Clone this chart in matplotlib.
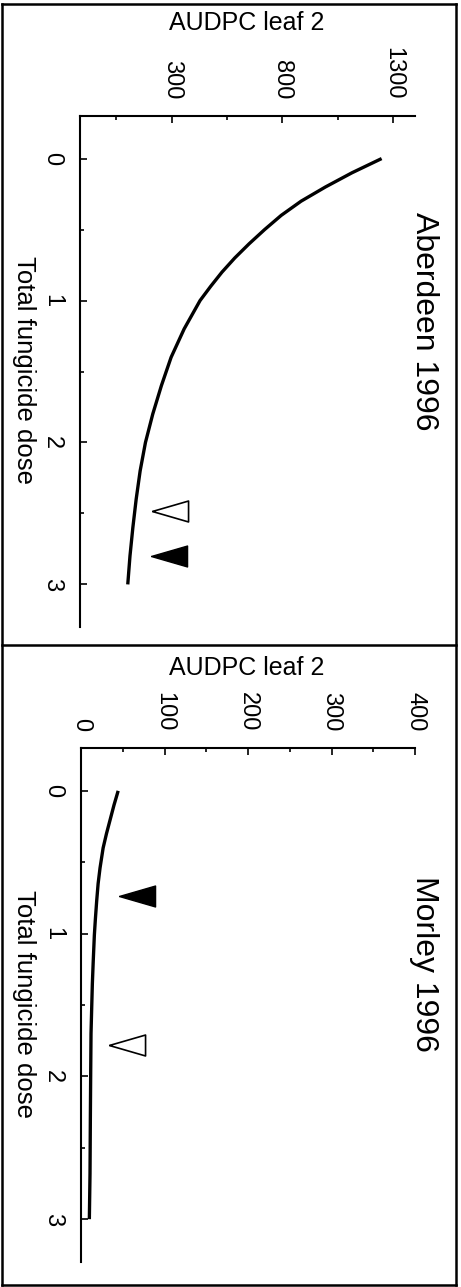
import matplotlib
matplotlib.use("Agg")
import matplotlib.pyplot as plt
from matplotlib.lines import Line2D

plt.rcParams['font.family'] = ['Liberation Sans', 'DejaVu Sans']

# ---------------- data ----------------
ab_title = "Aberdeen 1996"
ab_dose = [0, 0.1, 0.2, 0.3, 0.4, 0.5, 0.6, 0.7, 0.8, 0.9, 1.0,
           1.2, 1.4, 1.6, 1.8, 2.0, 2.2, 2.4, 2.6, 2.8, 3.0]
ab_audpc = [1249, 1115, 995, 885, 795, 720, 650, 585, 527, 476, 428,
            356, 297, 253, 214, 181, 157, 139, 124, 111, 101]
ab_open_dose = [2.48]
ab_open_audpc = [291]
ab_filled_dose = [2.80]
ab_filled_audpc = [286]
ab_xticks = [300, 800, 1300]
ab_xminor = [50, 550, 1050]
ab_xlim = (-115, 1400)

mo_title = "Morley 1996"
mo_dose = [0, 0.1, 0.2, 0.3, 0.4, 0.54, 0.65, 0.77, 0.9, 1.01,
           1.2, 1.35, 1.5, 1.7, 1.98, 2.3, 2.68, 3.0]
mo_audpc = [44.5, 39.5, 35, 30.5, 26.5, 22.8, 20.5, 18.8, 17.2, 16,
            14.6, 13.6, 12.9, 12, 11.6, 11.2, 10.8, 10]
mo_open_dose = [1.78]
mo_open_audpc = [55]
mo_filled_dose = [0.74]
mo_filled_audpc = [67]
mo_xticks = [0, 100, 200, 300, 400]
mo_xminor = [50, 150, 250, 350]
mo_xlim = (0, 400)

dose_ticks = [0, 1, 2, 3]
dose_minor = [0.5, 1.5, 2.5]
dose_lim = (3.3, -0.3)
x_label = "AUDPC leaf 2"
y_label = "Total fungicide dose"

# ---------------- figure ----------------
W, H = 461, 1287
fig = plt.figure(figsize=(W / 100, H / 100), dpi=100)


def fx(x):
    return x / W


def fy(y):
    return 1 - y / H


def px_axes(left, top, right, bottom):
    return fig.add_axes([fx(left), fy(bottom), (right - left) / W, (bottom - top) / H])


tri = [(-1, 0), (1, 0.58), (1, -0.58), (-1, 0)]


def panel(ax, dose, audpc, od, oa, fd, fa, xticks, xminor, xlim):
    ax.plot(audpc, dose, color='black', lw=2.4, solid_capstyle='butt',
            solid_joinstyle='round')
    ax.plot(oa, od, linestyle='none', marker=tri, markersize=26,
            markerfacecolor='white', markeredgecolor='black', markeredgewidth=1.2)
    ax.plot(fa, fd, linestyle='none', marker=tri, markersize=26,
            markerfacecolor='black', markeredgecolor='black', markeredgewidth=1.0)
    ax.set_xlim(*xlim)
    ax.set_ylim(*dose_lim)
    for s in ('right', 'bottom'):
        ax.spines[s].set_visible(False)
    for s in ('top', 'left'):
        ax.spines[s].set_linewidth(1.5)
    ax.xaxis.tick_top()
    ax.set_xticks(xticks)
    ax.set_xticks(xminor, minor=True)
    ax.set_yticks(dose_ticks)
    ax.set_yticks(dose_minor, minor=True)
    ax.tick_params(axis='x', which='both', direction='in', top=True, bottom=False,
                   labeltop=True, labelbottom=False, width=1.2)
    ax.tick_params(axis='x', which='major', length=5, pad=12, labelsize=17,
                   labelrotation=-90)
    ax.tick_params(axis='x', which='minor', length=3)
    ax.tick_params(axis='y', which='both', direction='in', left=True, width=1.2)
    ax.tick_params(axis='y', which='major', length=5, pad=12, labelsize=17,
                   labelrotation=-90)
    ax.tick_params(axis='y', which='minor', length=3)
    for t in ax.get_yticklabels():
        t.set_verticalalignment('center')
    ax.patch.set_alpha(0)


ax1 = px_axes(80, 116, 415, 627)
panel(ax1, ab_dose, ab_audpc, ab_open_dose, ab_open_audpc,
      ab_filled_dose, ab_filled_audpc, ab_xticks, ab_xminor, ab_xlim)

ax2 = px_axes(81, 748, 415, 1262)
panel(ax2, mo_dose, mo_audpc, mo_open_dose, mo_open_audpc,
      mo_filled_dose, mo_filled_audpc, mo_xticks, mo_xminor, mo_xlim)

# texts
fig.text(fx(247), fy(30), x_label, ha='center', va='baseline', fontsize=18)
fig.text(fx(247), fy(675), x_label, ha='center', va='baseline', fontsize=18)
fig.text(fx(424), fy(321), ab_title, ha='center', va='center', rotation=-90, fontsize=23)
fig.text(fx(424), fy(964), mo_title, ha='center', va='center', rotation=-90, fontsize=23)
fig.text(fx(24), fy(370), y_label, ha='center', va='center', rotation=-90, fontsize=18.5)
fig.text(fx(24), fy(1004), y_label, ha='center', va='center', rotation=-90, fontsize=18.5)

# frame and divider
L, R, T, B = 2, 456, 4, 1285
for xs, ys in [((L, R), (T, T)), ((L, R), (B, B)), ((L, L), (T, B)),
               ((R, R), (T, B)), ((L, R), (645, 645))]:
    fig.add_artist(Line2D([fx(x) for x in xs], [fy(y) for y in ys],
                          transform=fig.transFigure, color='black', lw=1.8))

fig.savefig("out.png", dpi=100)
